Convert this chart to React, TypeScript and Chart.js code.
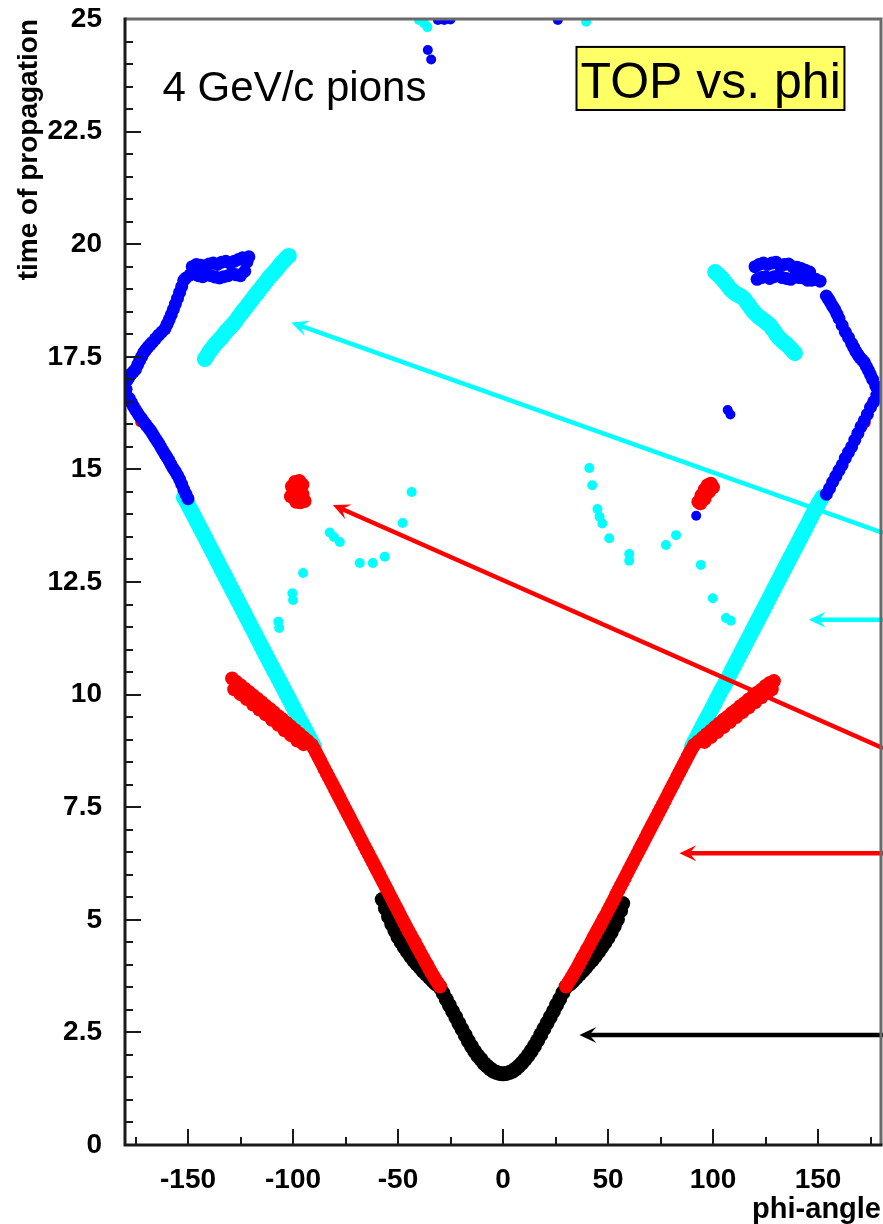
import React, { useEffect, useRef } from "react";
import { Chart, registerables } from "chart.js";

Chart.register(...registerables);

type P = [number, number];

// ---------- axis ticks ----------
const xTickValues = [-150, -100, -50, 0, 50, 100, 150];
const xTickLabels = ["-150", "-100", "-50", "0", "50", "100", "150"];
const yTickValues = [0, 2.5, 5, 7.5, 10, 12.5, 15, 17.5, 20, 22.5, 25];
const yTickLabels = ["0", "2.5", "5", "7.5", "10", "12.5", "15", "17.5", "20", "22.5", "25"];

// ---------- black: direct photons ----------
const blackCentral: P[] = [
  [-30, 3.5], [-28.5, 3.37], [-27, 3.23], [-25.5, 3.1], [-24, 2.97], [-22.5, 2.84], [-21, 2.7],
  [-19.5, 2.57], [-18, 2.44], [-16.5, 2.31], [-15, 2.19], [-13.5, 2.08], [-12, 1.98], [-10.5, 1.9],
  [-9, 1.81], [-7.5, 1.75], [-6, 1.69], [-4.5, 1.64], [-3, 1.61], [-1.5, 1.59], [0, 1.58],
  [1.5, 1.59], [3, 1.61], [4.5, 1.64], [6, 1.69], [7.5, 1.75], [9, 1.82], [10.5, 1.9], [12, 1.99],
  [13.5, 2.09], [15, 2.2], [16.5, 2.32], [18, 2.45], [19.5, 2.58], [21, 2.71], [22.5, 2.84],
  [24, 2.97], [25.5, 3.11], [27, 3.24], [28.5, 3.38], [30, 3.51],
];
const blackOuterLeft: P[] = [
  [-57.5, 5.45], [-56, 5.25], [-54.5, 5.07], [-53, 4.91], [-51.5, 4.76], [-50, 4.62], [-48.5, 4.5],
  [-47, 4.39], [-45.5, 4.29], [-44, 4.19], [-42.5, 4.1], [-41, 4.02], [-39.5, 3.94], [-38, 3.86],
  [-36.5, 3.79], [-35, 3.72], [-33.5, 3.65], [-32, 3.58],
];
const blackOuterRight: P[] = [
  [32, 3.58], [33.5, 3.65], [35, 3.72], [36.5, 3.8], [38, 3.87], [39.5, 3.95], [41, 4.03],
  [42.5, 4.11], [44, 4.2], [45.5, 4.29], [47, 4.39], [48.5, 4.49], [50, 4.6], [51.5, 4.72],
  [53, 4.86], [54.5, 5.01], [56, 5.2], [57, 5.36],
];

// ---------- red: one reflection ----------
const redLowerLeft: P[] = [
  [-90, 8.8], [-89, 8.71], [-88, 8.62], [-87, 8.53], [-86, 8.44], [-85, 8.35], [-84, 8.26],
  [-83, 8.17], [-82, 8.08], [-81, 7.99], [-80, 7.9], [-79, 7.81], [-78, 7.72], [-77, 7.63],
  [-76, 7.54], [-75, 7.45], [-74, 7.36], [-73, 7.27], [-72, 7.18], [-71, 7.09], [-70, 7.0],
  [-69, 6.91], [-68, 6.82], [-67, 6.73], [-66, 6.64], [-65, 6.55], [-64, 6.46], [-63, 6.37],
  [-62, 6.28], [-61, 6.19], [-60, 6.1], [-59, 6.01], [-58, 5.92], [-57, 5.83], [-56, 5.74],
  [-55, 5.65], [-54, 5.56], [-53, 5.47], [-52, 5.38], [-51, 5.29], [-50, 5.2], [-49, 5.11],
  [-48, 5.02], [-47, 4.93], [-46, 4.84], [-45, 4.75], [-44, 4.67], [-43, 4.58], [-42, 4.5],
  [-41, 4.41], [-40, 4.33], [-39, 4.24], [-38, 4.16], [-37, 4.07], [-36, 3.99], [-35, 3.9],
  [-34, 3.82], [-33, 3.74], [-32, 3.66], [-31, 3.59], [-30, 3.52],
];
const redLowerRight: P[] = [
  [30, 3.52], [31, 3.6], [32, 3.67], [33, 3.75], [34, 3.83], [35, 3.91], [36, 3.99], [37, 4.08],
  [38, 4.17], [39, 4.25], [40, 4.34], [41, 4.42], [42, 4.51], [43, 4.6], [44, 4.68], [45, 4.77],
  [46, 4.85], [47, 4.94], [48, 5.03], [49, 5.11], [50, 5.2], [51, 5.29], [52, 5.38], [53, 5.47],
  [54, 5.57], [55, 5.66], [56, 5.75], [57, 5.84], [58, 5.93], [59, 6.02], [60, 6.11], [61, 6.2],
  [62, 6.29], [63, 6.38], [64, 6.47], [65, 6.56], [66, 6.65], [67, 6.74], [68, 6.83], [69, 6.92],
  [70, 7.01], [71, 7.1], [72, 7.19], [73, 7.28], [74, 7.37], [75, 7.46], [76, 7.55], [77, 7.64],
  [78, 7.73], [79, 7.82], [80, 7.91], [81, 8.0], [82, 8.09], [83, 8.18], [84, 8.27], [85, 8.36],
  [86, 8.45], [87, 8.54], [88, 8.63], [89, 8.72], [90, 8.8],
];
const redUpperLeft: P[] = [
  [-129, 10.36], [-127, 10.28], [-125, 10.21], [-123, 10.13], [-121, 10.06], [-119, 9.98],
  [-117, 9.91], [-115, 9.83], [-113, 9.75], [-111, 9.68], [-109, 9.6], [-107, 9.52], [-105, 9.45],
  [-103, 9.37], [-101, 9.29], [-99, 9.21], [-97, 9.13], [-95, 9.05], [-93, 8.97], [-91, 8.88],
  [-128, 10.12], [-125, 10.01], [-122, 9.9], [-119, 9.78], [-116, 9.67], [-113, 9.56],
  [-110, 9.44], [-107, 9.33], [-104, 9.21], [-101, 9.1], [-98, 8.98], [-95, 8.9],
];
const redUpperRight: P[] = [
  [91, 8.88], [93, 8.96], [95, 9.04], [97, 9.12], [99, 9.2], [101, 9.28], [103, 9.36], [105, 9.44],
  [107, 9.51], [109, 9.59], [111, 9.66], [113, 9.74], [115, 9.81], [117, 9.89], [119, 9.96],
  [121, 10.04], [123, 10.11], [125, 10.19], [127, 10.26], [129, 10.3],
  [96, 8.95], [99, 9.06], [102, 9.17], [105, 9.28], [108, 9.39], [111, 9.5], [114, 9.61],
  [117, 9.72], [120, 9.83], [123, 9.94], [126, 10.05], [128, 10.12],
];
const redBlobs: P[] = [
  [-100.5, 14.62], [-99, 14.72], [-97, 14.74], [-95.5, 14.66], [-99.5, 14.45], [-97.5, 14.5],
  [-95.5, 14.45], [-98.5, 14.28], [-96.5, 14.27], [-94.5, 14.3], [-101, 14.4],
  [93, 14.28], [94.5, 14.42], [96, 14.55], [97.5, 14.65], [99, 14.68], [96, 14.35], [98, 14.5],
  [94, 14.25], [100, 14.6],
];
const redSpots: P[] = [[-172.8, 16.05], [172.7, 16.03]];

// ---------- cyan: two reflections ----------
const cyanMainLeft: P[] = [
  [-90, 8.85], [-91, 8.93], [-92, 9.02], [-93, 9.11], [-94, 9.2], [-95, 9.29], [-96, 9.38],
  [-97, 9.46], [-98, 9.55], [-99, 9.64], [-100, 9.73], [-101, 9.82], [-102, 9.91], [-103, 10.0],
  [-104, 10.09], [-105, 10.18], [-106, 10.27], [-107, 10.36], [-108, 10.45], [-109, 10.53],
  [-110, 10.62], [-111, 10.71], [-112, 10.8], [-113, 10.89], [-114, 10.98], [-115, 11.07],
  [-116, 11.16], [-117, 11.25], [-118, 11.34], [-119, 11.43], [-120, 11.52], [-121, 11.61],
  [-122, 11.7], [-123, 11.79], [-124, 11.88], [-125, 11.97], [-126, 12.06], [-127, 12.15],
  [-128, 12.24], [-129, 12.33], [-130, 12.42], [-131, 12.51], [-132, 12.6], [-133, 12.69],
  [-134, 12.78], [-135, 12.87], [-136, 12.96], [-137, 13.05], [-138, 13.14], [-139, 13.23],
  [-140, 13.32], [-141, 13.41], [-142, 13.5], [-143, 13.59], [-144, 13.68], [-145, 13.77],
  [-146, 13.86], [-147, 13.95], [-148, 14.04], [-149, 14.13], [-150, 14.22], [-151, 14.3],
  [-152, 14.38],
];
const cyanMainRight: P[] = [
  [90, 8.85], [91, 8.94], [92, 9.03], [93, 9.12], [94, 9.21], [95, 9.3], [96, 9.39], [97, 9.47],
  [98, 9.56], [99, 9.65], [100, 9.74], [101, 9.83], [102, 9.92], [103, 10.01], [104, 10.1],
  [105, 10.18], [106, 10.27], [107, 10.36], [108, 10.45], [109, 10.54], [110, 10.63],
  [111, 10.72], [112, 10.81], [113, 10.9], [114, 10.99], [115, 11.08], [116, 11.17], [117, 11.26],
  [118, 11.35], [119, 11.44], [120, 11.53], [121, 11.62], [122, 11.71], [123, 11.8], [124, 11.89],
  [125, 11.98], [126, 12.07], [127, 12.16], [128, 12.25], [129, 12.34], [130, 12.43],
  [131, 12.52], [132, 12.61], [133, 12.7], [134, 12.79], [135, 12.88], [136, 12.97], [137, 13.06],
  [138, 13.15], [139, 13.24], [140, 13.33], [141, 13.42], [142, 13.51], [143, 13.6], [144, 13.69],
  [145, 13.78], [146, 13.87], [147, 13.96], [148, 14.05], [149, 14.14], [150, 14.22],
  [151, 14.3], [152, 14.38],
];
const cyanUpperLeft: P[] = [
  [-142, 17.45], [-141, 17.52], [-140, 17.6], [-139, 17.66], [-138, 17.72], [-137, 17.78],
  [-136, 17.83], [-135, 17.88], [-134, 17.93], [-133, 17.99], [-132, 18.05], [-131, 18.1],
  [-130, 18.15], [-129, 18.2], [-128, 18.25], [-127, 18.31], [-126, 18.38], [-125, 18.44],
  [-124, 18.5], [-123, 18.56], [-122, 18.62], [-121, 18.68], [-120, 18.74], [-119, 18.8],
  [-118, 18.87], [-117, 18.92], [-116, 18.98], [-115, 19.04], [-114, 19.1], [-113, 19.16],
  [-112, 19.22], [-111, 19.28], [-110, 19.33], [-109, 19.38], [-108, 19.43], [-107, 19.49],
  [-106, 19.55], [-105, 19.6], [-104, 19.65], [-103, 19.7], [-102, 19.74],
];
const cyanUpperRight: P[] = [
  [101, 19.38], [102, 19.34], [103, 19.3], [104, 19.25], [105, 19.2], [106, 19.14], [107, 19.08],
  [108, 19.02], [109, 18.97], [110, 18.93], [111, 18.9], [112, 18.87], [113, 18.85], [114, 18.82],
  [115, 18.78], [116, 18.71], [117, 18.65], [118, 18.58], [119, 18.52], [120, 18.47],
  [121, 18.42], [122, 18.38], [123, 18.35], [124, 18.31], [125, 18.28], [126, 18.24],
  [127, 18.2], [128, 18.14], [129, 18.08], [130, 18.01], [131, 17.95], [132, 17.9], [133, 17.85],
  [134, 17.81], [135, 17.78], [136, 17.73], [137, 17.68], [138, 17.63], [139, 17.58],
];
const cyanDots: P[] = [
  [-107, 11.62], [-106.6, 11.48], [-100.3, 12.25], [-100, 12.1], [-95.2, 12.7], [-82.5, 13.6],
  [-80.5, 13.5], [-77.7, 13.39], [-68.2, 12.92], [-62, 12.92], [-56.3, 13.06], [-47.8, 13.81],
  [-43.5, 14.5],
  [41.1, 15.03], [42.5, 14.65], [45, 14.12], [46, 13.95], [47.3, 13.8], [50.6, 13.47],
  [60.1, 13.12], [60.1, 12.97], [77.6, 13.32], [82.4, 13.54], [94.2, 12.88], [99.9, 12.14],
  [106.2, 11.7], [108.5, 11.64],
  [-40, 24.98], [-37.5, 24.9], [-36, 24.82], [39.6, 24.94],
];

// ---------- blue: three or more reflections ----------
const blueLeft: P[] = [
  [-150, 14.35], [-151, 14.45], [-152, 14.55], [-153, 14.67], [-154, 14.78], [-155, 14.87],
  [-156, 14.95], [-157, 15.02], [-158, 15.1], [-159, 15.19], [-160, 15.27], [-161, 15.34],
  [-162, 15.42], [-163, 15.5], [-164, 15.58], [-165, 15.65], [-166, 15.72], [-167, 15.8],
  [-168, 15.87], [-169, 15.93], [-170, 15.99], [-171, 16.05], [-172, 16.12], [-173, 16.18],
  [-174, 16.25], [-175, 16.32], [-176, 16.4], [-177, 16.49], [-178, 16.58], [-179.5, 16.78],
  [-179, 16.98], [-178, 17.05], [-177, 17.12], [-176, 17.17], [-175, 17.22], [-174, 17.32],
  [-173, 17.42], [-172, 17.51], [-171, 17.6], [-170, 17.66], [-169, 17.72], [-168, 17.77],
  [-167, 17.82], [-165.5, 17.9], [-164, 17.98], [-162.5, 18.05], [-161, 18.12], [-160, 18.22],
  [-159, 18.32], [-158, 18.43], [-157, 18.55], [-156, 18.67], [-155, 18.8], [-154, 18.93],
  [-153, 19.06], [-152, 19.2],
  [-151, 19.25], [-149, 19.32], [-147, 19.35], [-145, 19.3], [-143, 19.28], [-141, 19.32],
  [-139, 19.3], [-137, 19.27], [-135, 19.25], [-133, 19.28], [-131, 19.3], [-129, 19.35],
  [-127, 19.32], [-125, 19.3], [-123, 19.4],
  [-148, 19.5], [-146, 19.55], [-144, 19.53], [-142, 19.52], [-140, 19.56], [-138, 19.58],
  [-136, 19.55], [-134, 19.6], [-132, 19.62], [-130, 19.58], [-128, 19.62], [-126, 19.66],
  [-124, 19.7], [-122, 19.6], [-121, 19.72],
];
const blueRight: P[] = [
  [121, 19.22], [123, 19.26], [125, 19.28], [127, 19.24], [129, 19.28], [131, 19.3], [133, 19.26],
  [135, 19.24], [137, 19.22], [139, 19.28], [141, 19.26], [143, 19.25], [145, 19.2], [147, 19.2],
  [149, 19.22], [151, 19.18],
  [120, 19.5], [122, 19.55], [124, 19.58], [126, 19.55], [128, 19.58], [130, 19.6], [132, 19.52],
  [134, 19.55], [136, 19.56], [138, 19.5], [140, 19.49], [142, 19.46], [144, 19.42], [146, 19.38],
  [154, 18.85], [155, 18.78], [156, 18.7], [157, 18.62], [158, 18.55], [159, 18.45], [160, 18.35],
  [161.5, 18.2], [163, 18.05], [164.5, 17.93], [166, 17.8], [167, 17.71], [168, 17.62],
  [169, 17.55], [170, 17.48], [171, 17.43], [172, 17.38], [173, 17.29], [174, 17.2], [175, 17.1],
  [176, 17.0], [177.5, 16.85], [178.5, 16.65], [178, 16.65], [176.5, 16.5], [175, 16.38],
  [173.5, 16.22], [172, 16.08], [170.5, 15.95], [169, 15.8], [167.5, 15.65], [166, 15.5],
  [164.5, 15.38], [163, 15.25], [161.5, 15.1], [160, 14.98], [158.5, 14.85], [157, 14.72],
  [155.5, 14.58], [154, 14.45],
];
const blueDots: P[] = [
  [107, 16.32], [108.3, 16.22], [92, 13.97],
  [-35.8, 24.31], [-34.2, 24.1], [-31, 24.98], [-28, 24.98], [-25, 24.99], [26.1, 24.98],
];

// ---------- annotations (data coordinates) ----------
const arrows = [
  { color: "#00ffff", from: [181, 13.59], to: [-100.8, 18.26] },
  { color: "#00ffff", from: [181, 11.66], to: [145.6, 11.66] },
  { color: "#ff0000", from: [181, 8.81], to: [-81, 14.21] },
  { color: "#ff0000", from: [181, 6.48], to: [84, 6.48] },
  { color: "#000000", from: [181, 2.44], to: [36.4, 2.44] },
];
const plotLabel = { text: "4 GeV/c pions", x: -162.1, y: 23.18 };
const titleBox = { text: "TOP vs. phi", x1: 35, y1: 24.38, x2: 162.6, y2: 22.98, tx: 36.9, ty: 23.25 };

const FONT = "'Liberation Sans', Arial, Helvetica, sans-serif";

const pts = (...arrs: P[][]) => arrs.flat().map(([x, y]) => ({ x, y }));

function drawArrow(ctx: CanvasRenderingContext2D, x1: number, y1: number, x2: number, y2: number, color: string) {
  const ang = Math.atan2(y2 - y1, x2 - x1);
  const c = Math.cos(ang), s = Math.sin(ang);
  const L = 17, Wd = 8, notch = 10;
  const bx = x2 - L * c, by = y2 - L * s;
  const nx = x2 - notch * c, ny = y2 - notch * s;
  ctx.strokeStyle = color;
  ctx.fillStyle = color;
  ctx.lineWidth = 4.5;
  ctx.lineCap = "butt";
  ctx.beginPath();
  ctx.moveTo(x1, y1);
  ctx.lineTo(nx, ny);
  ctx.stroke();
  ctx.beginPath();
  ctx.moveTo(x2, y2);
  ctx.lineTo(bx - Wd * s, by + Wd * c);
  ctx.lineTo(nx, ny);
  ctx.lineTo(bx + Wd * s, by - Wd * c);
  ctx.closePath();
  ctx.fill();
}

const decorPlugin = {
  id: "decor",
  afterDatasetsDraw(chart: any) {
    const { ctx, scales } = chart;
    const xs = scales.x, ys = scales.y;
    ctx.save();
    for (const a of arrows) {
      drawArrow(
        ctx,
        xs.getPixelForValue(a.from[0]), ys.getPixelForValue(a.from[1]),
        xs.getPixelForValue(a.to[0]), ys.getPixelForValue(a.to[1]),
        a.color
      );
    }
    ctx.restore();
  },
  afterDraw(chart: any) {
    const { ctx, chartArea: ar, scales } = chart;
    const xs = scales.x, ys = scales.y;
    ctx.save();
    // inward ticks
    ctx.strokeStyle = "#1a1a1a";
    ctx.lineWidth = 2;
    for (let i = 0; i <= 50; i++) {
      const py = Math.round(ys.getPixelForValue(i * 0.5));
      const len = i % 5 === 0 ? 16 : 8;
      ctx.beginPath();
      ctx.moveTo(ar.left, py);
      ctx.lineTo(ar.left + len, py);
      ctx.stroke();
    }
    for (let v = -175; v <= 175; v += 25) {
      const px = Math.round(xs.getPixelForValue(v));
      const len = v % 50 === 0 ? 16 : 8;
      ctx.beginPath();
      ctx.moveTo(px, ar.bottom);
      ctx.lineTo(px, ar.bottom - len);
      ctx.stroke();
    }
    // frame
    ctx.lineWidth = 3;
    ctx.strokeStyle = "#6a6a6a";
    ctx.beginPath();
    ctx.moveTo(ar.left, ar.top);
    ctx.lineTo(ar.right, ar.top);
    ctx.lineTo(ar.right, ar.bottom);
    ctx.stroke();
    ctx.strokeStyle = "#1a1a1a";
    ctx.beginPath();
    ctx.moveTo(ar.left, ar.top - 1.5);
    ctx.lineTo(ar.left, ar.bottom);
    ctx.lineTo(ar.right + 1.5, ar.bottom);
    ctx.stroke();

    // text annotations
    ctx.fillStyle = "#000";
    ctx.textAlign = "left";
    ctx.textBaseline = "alphabetic";
    ctx.font = `42px ${FONT}`;
    ctx.fillText(plotLabel.text, xs.getPixelForValue(plotLabel.x), ys.getPixelForValue(plotLabel.y));

    const bx1 = xs.getPixelForValue(titleBox.x1), by1 = ys.getPixelForValue(titleBox.y1);
    const bx2 = xs.getPixelForValue(titleBox.x2), by2 = ys.getPixelForValue(titleBox.y2);
    ctx.fillStyle = "#ffff66";
    ctx.fillRect(bx1, by1, bx2 - bx1, by2 - by1);
    ctx.strokeStyle = "#000";
    ctx.lineWidth = 2;
    ctx.strokeRect(bx1, by1, bx2 - bx1, by2 - by1);
    ctx.fillStyle = "#000";
    ctx.font = `50px ${FONT}`;
    ctx.fillText(titleBox.text, xs.getPixelForValue(titleBox.tx), ys.getPixelForValue(titleBox.ty));
    ctx.restore();
  },
};

function ds(data: P[][], color: string, r: number) {
  return {
    data: pts(...data),
    backgroundColor: color,
    borderWidth: 0,
    pointRadius: r,
    pointHoverRadius: r,
    pointBorderWidth: 0,
    clip: 0,
  };
}

export default function App() {
  const ref = useRef<HTMLCanvasElement>(null);
  useEffect(() => {
    const chart = new Chart(ref.current as HTMLCanvasElement, {
      type: "scatter",
      data: {
        datasets: [
          ds([blueLeft, blueRight], "#0000ff", 6.5),
          ds([blueDots], "#0000ff", 5),
          ds([redSpots], "#ff0000", 5),
          ds([redBlobs], "#ff0000", 7),
          ds([redLowerLeft, redLowerRight, redUpperLeft, redUpperRight], "#ff0000", 7),
          ds([cyanDots], "#00ffff", 5),
          ds([cyanMainLeft, cyanMainRight, cyanUpperLeft, cyanUpperRight], "#00ffff", 8),
          ds([blackCentral, blackOuterLeft, blackOuterRight], "#000000", 7.5),
        ] as any,
      },
      options: {
        responsive: false,
        devicePixelRatio: 1,
        animation: false,
        events: [],
        layout: { autoPadding: false, padding: { top: 19, right: 2, left: 0, bottom: 0 } },
        plugins: { legend: { display: false }, tooltip: { enabled: false } },
        scales: {
          x: {
            type: "linear",
            position: "bottom",
            min: -180,
            max: 180,
            grid: { display: false },
            border: { display: false },
            afterBuildTicks: (s: any) => {
              s.ticks = xTickValues.map((v) => ({ value: v }));
            },
            afterFit: (s: any) => {
              s.height = 79;
              s.paddingLeft = 0;
              s.paddingRight = 0;
            },
            ticks: {
              autoSkip: false,
              maxRotation: 0,
              padding: 10,
              color: "#000",
              font: { family: FONT, size: 28, weight: "bold" },
              callback: (_v: any, i: number) => xTickLabels[i],
            },
            title: {
              display: true,
              text: "phi-angle",
              align: "end",
              color: "#000",
              padding: 0,
              font: { family: FONT, size: 29, weight: "bold", lineHeight: 1 },
            },
          },
          y: {
            type: "linear",
            position: "left",
            min: 0,
            max: 25,
            grid: { display: false },
            border: { display: false },
            afterBuildTicks: (s: any) => {
              s.ticks = yTickValues.map((v) => ({ value: v }));
            },
            afterFit: (s: any) => {
              s.width = 125;
              s.paddingTop = 0;
              s.paddingBottom = 0;
            },
            ticks: {
              autoSkip: false,
              padding: 15,
              color: "#000",
              font: { family: FONT, size: 28, weight: "bold" },
              callback: (_v: any, i: number) => yTickLabels[i],
            },
            title: {
              display: true,
              text: "time of propagation",
              align: "end",
              color: "#000",
              padding: { top: 12 },
              font: { family: FONT, size: 28, weight: "bold", lineHeight: 1.2 },
            },
          },
        },
      },
      plugins: [decorPlugin],
    } as any);
    return () => chart.destroy();
  }, []);
  return (
    <div style={{ position: "absolute", left: 0, top: 0, width: 883, height: 1224, background: "#fff" }}>
      <canvas ref={ref} width={883} height={1224} style={{ display: "block" }} />
    </div>
  );
}
